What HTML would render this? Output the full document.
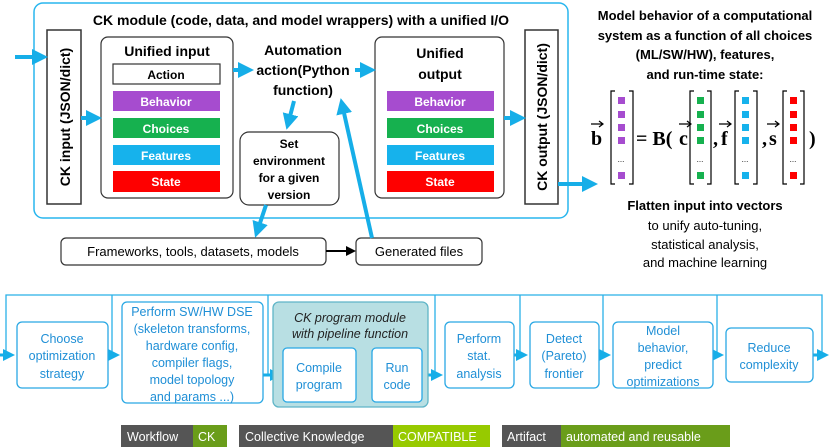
<!DOCTYPE html>
<html><head><meta charset="utf-8"><style>
html,body{margin:0;padding:0;background:#fff;width:830px;height:448px;overflow:hidden}
svg{display:block}
text{font-family:"Liberation Sans",sans-serif}
.b{font-weight:bold}
</style></head><body>
<svg width="830" height="448" viewBox="0 0 830 448" xmlns="http://www.w3.org/2000/svg">
<defs>
<marker id="ab" markerWidth="4" markerHeight="4" refX="2.5" refY="2" orient="auto" markerUnits="strokeWidth"><path d="M0,0 L4,2 L0,4 Z" fill="#16aee8"/></marker>
<marker id="ak" markerWidth="5" markerHeight="5" refX="4" refY="2.5" orient="auto" markerUnits="strokeWidth"><path d="M0,0 L5,2.5 L0,5 Z" fill="#000"/></marker>
<marker id="as" markerWidth="4" markerHeight="4" refX="3" refY="2" orient="auto" markerUnits="strokeWidth"><path d="M0,0 L4,2 L0,4 Z" fill="#16aee8"/></marker>
</defs>
<!-- main box -->
<rect x="34" y="3" width="534" height="215" rx="9" fill="#fff" stroke="#29b6ee" stroke-width="1.5"/>
<text x="301" y="25" text-anchor="middle" class="b" font-size="14">CK module (code, data, and model wrappers) with a unified I/O</text>
<!-- CK input -->
<rect x="47" y="30" width="34" height="174" fill="#fff" stroke="#333" stroke-width="1.5"/>
<text transform="translate(70,117) rotate(-90)" text-anchor="middle" class="b" font-size="14">CK input (JSON/dict)</text>
<rect x="525" y="30" width="33" height="174" fill="#fff" stroke="#333" stroke-width="1.5"/>
<text transform="translate(547,117) rotate(-90)" text-anchor="middle" class="b" font-size="14">CK output (JSON/dict)</text>
<!-- unified input -->
<rect x="101" y="37" width="132" height="161" rx="7" fill="#fff" stroke="#333" stroke-width="1.2"/>
<text x="167" y="56" text-anchor="middle" class="b" font-size="14">Unified input</text>
<rect x="113" y="64" width="107" height="20" fill="#fff" stroke="#333" stroke-width="1.2"/>
<text x="166" y="79" text-anchor="middle" class="b" font-size="12">Action</text>
<rect x="113" y="91" width="107" height="20" fill="#a64ccf"/>
<text x="166" y="106" text-anchor="middle" class="b" font-size="12" fill="#fff">Behavior</text>
<rect x="113" y="118" width="107" height="20" fill="#16b14f"/>
<text x="166" y="133" text-anchor="middle" class="b" font-size="12" fill="#fff">Choices</text>
<rect x="113" y="145" width="107" height="20" fill="#16b2ec"/>
<text x="166" y="160" text-anchor="middle" class="b" font-size="12" fill="#fff">Features</text>
<rect x="113" y="171" width="107" height="21" fill="#fe0000"/>
<text x="166" y="186" text-anchor="middle" class="b" font-size="12" fill="#fff">State</text>
<!-- unified output -->
<rect x="375" y="37" width="129" height="161" rx="7" fill="#fff" stroke="#333" stroke-width="1.2"/>
<text x="440" y="58" text-anchor="middle" class="b" font-size="14">Unified</text>
<text x="440" y="79" text-anchor="middle" class="b" font-size="14">output</text>
<rect x="387" y="91" width="107" height="20" fill="#a64ccf"/>
<text x="440" y="106" text-anchor="middle" class="b" font-size="12" fill="#fff">Behavior</text>
<rect x="387" y="118" width="107" height="20" fill="#16b14f"/>
<text x="440" y="133" text-anchor="middle" class="b" font-size="12" fill="#fff">Choices</text>
<rect x="387" y="145" width="107" height="20" fill="#16b2ec"/>
<text x="440" y="160" text-anchor="middle" class="b" font-size="12" fill="#fff">Features</text>
<rect x="387" y="171" width="107" height="21" fill="#fe0000"/>
<text x="440" y="186" text-anchor="middle" class="b" font-size="12" fill="#fff">State</text>
<!-- automation -->
<text x="303" y="55" text-anchor="middle" class="b" font-size="14">Automation</text>
<text x="303" y="75" text-anchor="middle" class="b" font-size="14">action(Python</text>
<text x="303" y="95" text-anchor="middle" class="b" font-size="14">function)</text>
<rect x="240" y="132" width="99" height="73" rx="9" fill="#fff" stroke="#333" stroke-width="1.2"/>
<text x="289" y="148" text-anchor="middle" class="b" font-size="12">Set</text>
<text x="289" y="165" text-anchor="middle" class="b" font-size="12">environment</text>
<text x="289" y="182" text-anchor="middle" class="b" font-size="12">for a given</text>
<text x="289" y="199" text-anchor="middle" class="b" font-size="12">version</text>
<!-- bottom of top -->
<rect x="61" y="238" width="265" height="27" rx="5" fill="#fff" stroke="#333" stroke-width="1.2"/>
<text x="193" y="256" text-anchor="middle" font-size="13">Frameworks, tools, datasets, models</text>
<rect x="356" y="238" width="126" height="27" rx="5" fill="#fff" stroke="#333" stroke-width="1.2"/>
<text x="419" y="256" text-anchor="middle" font-size="13">Generated files</text>
<line x1="326" y1="251" x2="354" y2="251" stroke="#000" stroke-width="2" marker-end="url(#ak)"/>
<!-- blue arrows -->
<g stroke="#16aee8" stroke-width="4" fill="none">
<line x1="15" y1="57" x2="42" y2="57" marker-end="url(#ab)"/>
<line x1="81" y1="118" x2="96" y2="118" marker-end="url(#ab)"/>
<line x1="233" y1="70" x2="248" y2="70" marker-end="url(#ab)"/>
<line x1="355" y1="70" x2="370" y2="70" marker-end="url(#ab)"/>
<line x1="504" y1="118" x2="520" y2="118" marker-end="url(#ab)"/>
<line x1="558" y1="184" x2="592" y2="184" marker-end="url(#ab)"/>
<line x1="294" y1="101" x2="288" y2="124" marker-end="url(#ab)"/>
<line x1="266" y1="205" x2="257" y2="232" marker-end="url(#ab)"/>
<line x1="372" y1="238" x2="342" y2="104" marker-end="url(#ab)"/>
</g>
<!-- right text -->
<g class="b" font-size="13" text-anchor="middle">
<text x="705" y="20">Model behavior of a computational</text>
<text x="705" y="40">system as a function of all choices</text>
<text x="705" y="59">(ML/SW/HW), features,</text>
<text x="705" y="79">and run-time state:</text>
<text x="705" y="210">Flatten input into vectors</text>
</g>
<g font-size="13" text-anchor="middle">
<text x="705" y="230">to unify auto-tuning,</text>
<text x="705" y="249">statistical analysis,</text>
<text x="705" y="267">and machine learning</text>
</g>
<!-- equation -->
<g font-family="Liberation Serif" font-weight="bold" font-size="20" style="font-family:'Liberation Serif',serif">
<text x="591" y="145" style="font-family:'Liberation Serif',serif">b</text>
<text x="636" y="145" style="font-family:'Liberation Serif',serif">= B(</text>
<text x="679" y="145" style="font-family:'Liberation Serif',serif">c</text>
<text x="713" y="145" style="font-family:'Liberation Serif',serif">,</text>
<text x="721" y="145" style="font-family:'Liberation Serif',serif">f</text>
<text x="762" y="145" style="font-family:'Liberation Serif',serif">,</text>
<text x="769" y="145" style="font-family:'Liberation Serif',serif">s</text>
<text x="809" y="145" style="font-family:'Liberation Serif',serif">)</text>
</g>
<g stroke="#000" stroke-width="1.2" fill="none">
<path d="M591,124 H603 M599,121 L603,124 L599,127"/>
<path d="M679,124 H691 M687,121 L691,124 L687,127"/>
<path d="M719,124 H731 M727,121 L731,124 L727,127"/>
<path d="M767,124 H779 M775,121 L779,124 L775,127"/>
<path d="M615,91 H611 V184 H615 M629,91 H633 V184 H629"/>
<path d="M694,91 H690 V184 H694 M707,91 H711 V184 H707"/>
<path d="M739,91 H735 V184 H739 M753,91 H757 V184 H753"/>
<path d="M787,91 H783 V184 H787 M800,91 H804 V184 H800"/>
</g>
<g>
<g fill="#a64ccf"><rect x="618" y="97" width="7" height="7"/><rect x="618" y="111" width="7" height="7"/><rect x="618" y="124" width="7" height="7"/><rect x="618" y="137" width="7" height="7"/><rect x="618" y="172" width="7" height="7"/></g>
<g fill="#16b14f"><rect x="697" y="97" width="7" height="7"/><rect x="697" y="111" width="7" height="7"/><rect x="697" y="124" width="7" height="7"/><rect x="697" y="137" width="7" height="7"/><rect x="697" y="172" width="7" height="7"/></g>
<g fill="#16b2ec"><rect x="742" y="97" width="7" height="7"/><rect x="742" y="111" width="7" height="7"/><rect x="742" y="124" width="7" height="7"/><rect x="742" y="137" width="7" height="7"/><rect x="742" y="172" width="7" height="7"/></g>
<g fill="#fe0000"><rect x="790" y="97" width="7" height="7"/><rect x="790" y="111" width="7" height="7"/><rect x="790" y="124" width="7" height="7"/><rect x="790" y="137" width="7" height="7"/><rect x="790" y="172" width="7" height="7"/></g>
<g font-size="8" text-anchor="middle"><text x="621" y="162">...</text><text x="700" y="162">...</text><text x="745" y="162">...</text><text x="793" y="162">...</text></g>
</g>
<!-- bottom pipeline -->
<g stroke="#29b1e8" stroke-width="1.3" fill="none">
<polyline points="6,355 6,295 822,295 822,355"/>
<line x1="112" y1="295" x2="112" y2="355"/>
<line x1="268" y1="295" x2="268" y2="375"/>
<line x1="435" y1="295" x2="435" y2="375"/>
<line x1="520" y1="295" x2="520" y2="355"/>
<line x1="603" y1="295" x2="603" y2="355"/>
<line x1="717" y1="295" x2="717" y2="355"/>
</g>
<g stroke="#16aee8" stroke-width="3" fill="none">
<line x1="0" y1="355" x2="12" y2="355" marker-end="url(#as)"/>
<line x1="112" y1="355" x2="117" y2="355" marker-end="url(#as)"/>
<line x1="263" y1="375" x2="279" y2="375" marker-end="url(#as)"/>
<line x1="356" y1="375" x2="367" y2="375" marker-end="url(#as)"/>
<line x1="422" y1="375" x2="440" y2="375" marker-end="url(#as)"/>
<line x1="514" y1="355" x2="525" y2="355" marker-end="url(#as)"/>
<line x1="599" y1="355" x2="608" y2="355" marker-end="url(#as)"/>
<line x1="713" y1="355" x2="721" y2="355" marker-end="url(#as)"/>
<line x1="813" y1="355" x2="826" y2="355" marker-end="url(#as)"/>
</g>
<g stroke="#29a8e4" stroke-width="1.3" fill="#fff">
<rect x="17" y="322" width="91" height="66" rx="5"/>
<rect x="122" y="302" width="141" height="101" rx="5"/>
<rect x="273" y="302" width="155" height="105" rx="6" fill="#b8dfe3" stroke="#5fb5c7"/>
<rect x="283" y="348" width="73" height="54" rx="4"/>
<rect x="372" y="348" width="50" height="54" rx="4"/>
<rect x="445" y="322" width="69" height="66" rx="5"/>
<rect x="530" y="322" width="69" height="66" rx="5"/>
<rect x="613" y="322" width="100" height="66" rx="5"/>
<rect x="726" y="328" width="87" height="54" rx="5"/>
</g>
<g font-size="12.5" fill="#1f8fd6" text-anchor="middle">
<text x="62" y="343">Choose</text><text x="62" y="360">optimization</text><text x="62" y="378">strategy</text>
<text x="192" y="316">Perform SW/HW DSE</text><text x="192" y="333">(skeleton transforms,</text><text x="192" y="350">hardware config,</text><text x="192" y="367">compiler flags,</text><text x="192" y="384">model topology</text><text x="192" y="401">and params ...)</text>
<text x="319" y="372">Compile</text><text x="319" y="389">program</text>
<text x="397" y="372">Run</text><text x="397" y="389">code</text>
<text x="479" y="343">Perform</text><text x="479" y="360">stat.</text><text x="479" y="378">analysis</text>
<text x="564" y="343">Detect</text><text x="564" y="360">(Pareto)</text><text x="564" y="378">frontier</text>
<text x="663" y="335">Model</text><text x="663" y="352">behavior,</text><text x="663" y="369">predict</text><text x="663" y="386">optimizations</text>
<text x="769" y="352">Reduce</text><text x="769" y="369">complexity</text>
</g>
<g font-size="12.5" font-style="italic" fill="#222" text-anchor="middle">
<text x="350" y="322">CK program module</text><text x="350" y="338">with pipeline function</text>
</g>
<!-- badges -->
<rect x="121" y="425" width="72" height="22" fill="#555"/><rect x="193" y="425" width="34" height="22" fill="#6a9d1a"/>
<rect x="239" y="425" width="154" height="22" fill="#555"/><rect x="393" y="425" width="97" height="22" fill="#97ca00"/>
<rect x="502" y="425" width="59" height="22" fill="#555"/><rect x="561" y="425" width="169" height="22" fill="#6a9d1a"/>
<g font-size="12.5" fill="#fff">
<text x="127" y="441">Workflow</text><text x="198" y="441">CK</text>
<text x="245" y="441">Collective Knowledge</text><text x="398" y="441">COMPATIBLE</text>
<text x="507" y="441">Artifact</text><text x="566" y="441">automated and reusable</text>
</g>
</svg>
</body></html>
